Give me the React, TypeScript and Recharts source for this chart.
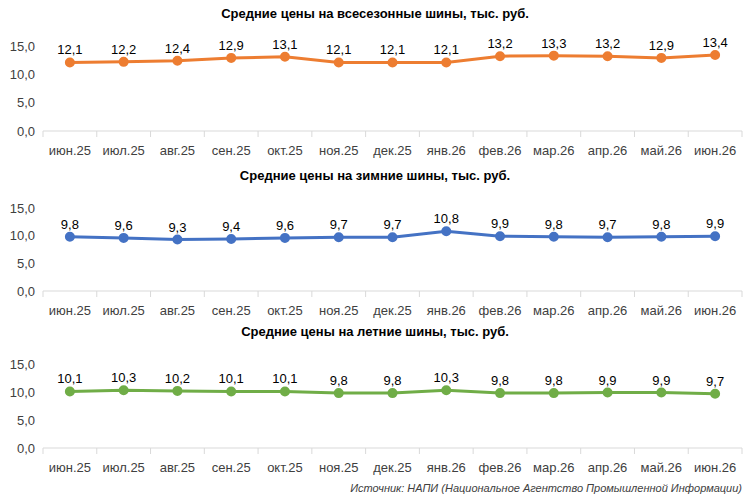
import { LineChart, Line, XAxis, YAxis, LabelList } from 'recharts';

const months = ['июн.25', 'июл.25', 'авг.25', 'сен.25', 'окт.25', 'ноя.25', 'дек.25', 'янв.26', 'фев.26', 'мар.26', 'апр.26', 'май.26', 'июн.26'];
const allSeason = [12.1, 12.2, 12.4, 12.9, 13.1, 12.1, 12.1, 12.1, 13.2, 13.3, 13.2, 12.9, 13.4];
const winter = [9.8, 9.6, 9.3, 9.4, 9.6, 9.7, 9.7, 10.8, 9.9, 9.8, 9.7, 9.8, 9.9];
const summer = [10.1, 10.3, 10.2, 10.1, 10.1, 9.8, 9.8, 10.3, 9.8, 9.8, 9.9, 9.9, 9.7];
const yTicks = [0, 5, 10, 15];

const font = '"Liberation Sans", Arial, sans-serif';
const fmt = (v: number) => v.toFixed(1).replace('.', ',');
const band = (742 - 43) / months.length;

function MonthTick(props: any) {
  const { x, y, payload, index } = props;
  return (
    <g>
      <line x1={x - band / 2} x2={x - band / 2} y1={y - 8} y2={y - 2} stroke="#d9d9d9" />
      {index === months.length - 1 && (
        <line x1={x + band / 2} x2={x + band / 2} y1={y - 8} y2={y - 2} stroke="#d9d9d9" />
      )}
      <text x={x} y={y + 16} textAnchor="middle" fontSize={13} fill="#404040" fontFamily={font}>
        {payload.value}
      </text>
    </g>
  );
}

function Panel({ title, values, color, top, height, marginTop }: any) {
  const data = months.map((m, i) => ({ m, v: values[i] }));
  return (
    <div style={{ position: 'absolute', left: 0, top, width: 750, height }}>
      <div style={{ position: 'absolute', left: 0, width: 750, top: marginTop - 40, textAlign: 'center', fontFamily: font, fontWeight: 'bold', fontSize: 13, color: '#000' }}>
        {title}
      </div>
      <LineChart width={750} height={height} data={data} margin={{ top: marginTop, right: 8, bottom: 0, left: 0 }}>
        <XAxis dataKey="m" height={29} stroke="#d9d9d9" tickLine={false} tick={<MonthTick />} interval={0}
          padding={{ left: band / 2, right: band / 2 }} />
        <YAxis width={43} domain={[0, 15]} ticks={yTicks} axisLine={false} tickLine={false} tickFormatter={fmt}
          tick={{ fontSize: 13, fill: '#404040', fontFamily: font }} />
        <Line dataKey="v" stroke={color} strokeWidth={3} isAnimationActive={false}
          dot={{ r: 3.5, fill: color, stroke: color }}>
          <LabelList dataKey="v" position="top" offset={8} formatter={(v: any) => fmt(v)}
            style={{ fontSize: 13, fill: '#000', fontFamily: font }} />
        </Line>
      </LineChart>
    </div>
  );
}

export default function App() {
  return (
    <div style={{ position: 'absolute', left: 0, top: 0, width: 750, height: 501, background: '#fff' }}>
      <Panel title="Средние цены на всесезонные шины, тыс. руб." values={allSeason} color="#ED7D31" top={0} height={160} marginTop={46} />
      <Panel title="Средние цены на зимние шины, тыс. руб." values={winter} color="#4472C4" top={160} height={160} marginTop={48} />
      <Panel title="Средние цены на летние шины, тыс. руб." values={summer} color="#70AD47" top={320} height={157} marginTop={44} />
      <div style={{ position: 'absolute', right: 8, top: 482, fontFamily: font, fontStyle: 'italic', fontSize: 11, color: '#404040' }}>
        Источник: НАПИ (Национальное Агентство Промышленной Информации)
      </div>
    </div>
  );
}
